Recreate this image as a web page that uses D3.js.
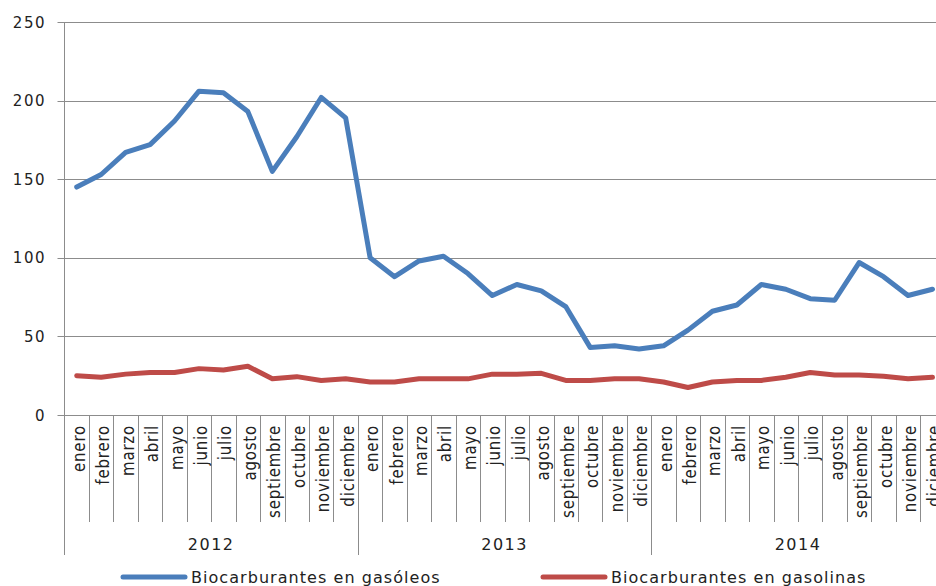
<!DOCTYPE html>
<html><head><meta charset="utf-8">
<script src="https://cdn.jsdelivr.net/npm/d3@7"></script>
<style>html,body{margin:0;padding:0;background:#fff;overflow:hidden}svg{display:block}</style>
</head><body>
<svg id="c" width="936" height="586"></svg>
<script>
const months = ["enero","febrero","marzo","abril","mayo","junio","julio","agosto","septiembre","octubre","noviembre","diciembre"];
const years = ["2012","2013","2014"];
const yTicks = [0,50,100,150,200,250];
const seriesNames = ["Biocarburantes en gasóleos","Biocarburantes en gasolinas"];
const gasoleos = [145,153,167,172,187,206,205,193,155,177,202,189,
                  100,88,98,101,90,76,83,79,69,43,44,42,
                  44,54,66,70,83,80,74,73,97,88,76,80];
const gasolinas = [25,24,26,27,27,29.5,28.6,31,23,24.4,22,23,
                   21,21,23,23,23,26,26,26.5,22,22,23,23,
                   21,17.5,21,22,22,24,27,25.5,25.5,24.7,23,24];
const colors = ["#4A7EBB","#BE4B48"];

const svg = d3.select("#c");
const L = 64.5, T = 22, B = 415;
const n = months.length * years.length;
const idx = d3.range(n);
const x = d3.scaleBand().domain(idx).range([L, L + 24.45 * n]).paddingInner(0).paddingOuter(0);
const y = d3.scaleLinear().domain([0,250]).range([B, T]);
const grid = "#8c8c8c";
const font = "'DejaVu Sans', Verdana, sans-serif";

// gridlines
svg.append("g").selectAll("line").data(yTicks).join("line")
  .attr("x1", L).attr("x2", 936)
  .attr("y1", d => Math.round(y(d)) + 0.5).attr("y2", d => Math.round(y(d)) + 0.5)
  .attr("stroke", grid).attr("stroke-width", 1);
// y ticks
svg.append("g").selectAll("line").data(yTicks).join("line")
  .attr("x1", L - 7).attr("x2", L)
  .attr("y1", d => Math.round(y(d)) + 0.5).attr("y2", d => Math.round(y(d)) + 0.5)
  .attr("stroke", grid);
// y labels
svg.append("g").selectAll("text").data(yTicks).join("text")
  .attr("x", 46).attr("y", d => y(d) + 5.5)
  .attr("text-anchor", "end")
  .attr("font-family", font).attr("font-size", 15).attr("letter-spacing", 1.5)
  .attr("fill", "#222").text(d => d);
// y axis line
svg.append("line").attr("x1", L).attr("x2", L).attr("y1", T).attr("y2", 555).attr("stroke", grid);

// month separators
svg.append("g").selectAll("line").data(d3.range(1, n + 1)).join("line")
  .attr("x1", d => Math.round(L + 24.45 * d) + 0.5).attr("x2", d => Math.round(L + 24.45 * d) + 0.5)
  .attr("y1", B).attr("y2", d => d % 12 === 0 ? 555 : 522)
  .attr("stroke", grid);

// month labels
svg.append("g").selectAll("text").data(idx).join("text")
  .attr("transform", d => `translate(${x(d) + x.bandwidth()/2 + 8},425) rotate(-90) scale(1,1.2)`)
  .attr("text-anchor", "end")
  .attr("font-family", font).attr("font-size", 15).attr("letter-spacing", 0.8)
  .attr("fill", "#222").text(d => months[d % 12]);

// year labels
svg.append("g").selectAll("text").data(years).join("text")
  .attr("x", (d, i) => (x(i*12) + x(i*12+11) + x.bandwidth()) / 2)
  .attr("y", 550)
  .attr("text-anchor", "middle")
  .attr("font-family", font).attr("font-size", 16).attr("letter-spacing", 1.5)
  .attr("fill", "#222").text(d => d);

// lines
const line = d3.line().x((d, i) => x(i) + x.bandwidth()/2).y(d => y(d));
[gasolinas, gasoleos].forEach((s, k) => {
  svg.append("path").datum(s).attr("d", line)
    .attr("fill", "none").attr("stroke", colors[1 - k]).attr("stroke-width", 5)
    .attr("stroke-linejoin", "round").attr("stroke-linecap", "round");
});

// legend
const legX = [123, 543];
seriesNames.forEach((name, k) => {
  const g = svg.append("g");
  g.append("line").attr("x1", legX[k]).attr("x2", legX[k] + 62).attr("y1", 577).attr("y2", 577)
    .attr("stroke", colors[k]).attr("stroke-width", 5).attr("stroke-linecap", "round");
  g.append("text").attr("x", legX[k] + 68).attr("y", 583)
    .attr("font-family", font).attr("font-size", 16).attr("letter-spacing", 1.05)
    .attr("fill", "#222").text(name);
});
</script>
</body></html>
